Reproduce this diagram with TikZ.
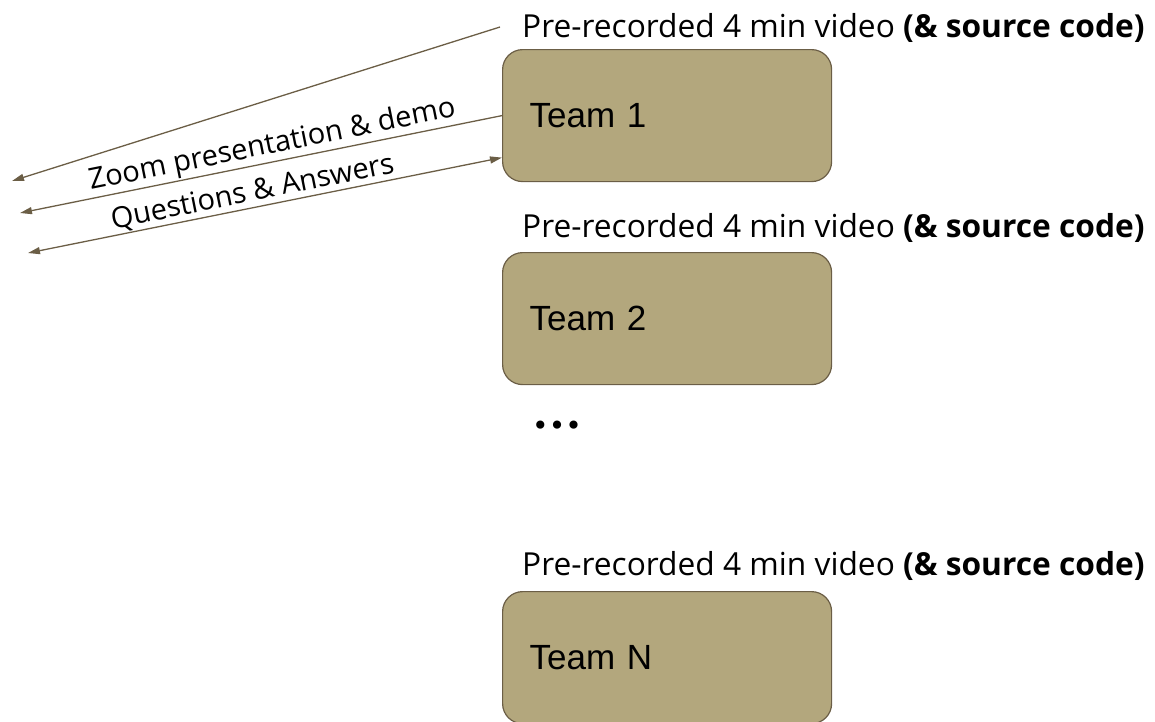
\documentclass[tikz,border=0pt]{standalone}
\usepackage{fontspec}
\setmainfont{Open Sans}
\newfontfamily\teamfont{Liberation Sans}
\newfontfamily\dotfont{DejaVu Sans}
\usetikzlibrary{arrows.meta}
\definecolor{teamfill}{RGB}{179,167,125}
\definecolor{teamline}{RGB}{107,94,70}
\tikzset{
  teambox/.style={draw=teamline, fill=teamfill, line width=1.2pt, rounded corners=20pt,
    anchor=north west, minimum height=132pt, text width=275pt, inner xsep=27pt,
    align=left, font=\teamfont\fontsize{35}{40}\selectfont},
  pretext/.style={anchor=base west, inner sep=0pt, font=\fontsize{31.7}{36}\selectfont},
  flow/.style={draw=teamline, line width=1.3pt},
  tip/.tip={Triangle[length=12pt, width=7pt]},
  flowlabel/.style={sloped, above, inner sep=1pt, font=\fontsize{29}{34}\selectfont}
}
\begin{document}
\begin{tikzpicture}[x=1pt, y=-1pt]
  \useasboundingbox (0,0) rectangle (1155,721);
  % teams
  \node[pretext] (pre1) at (522,37) {Pre-recorded 4 min video \textbf{(\& source code)}};
  \node[teambox] (team1) at (502,49) {Team 1};
  \node[pretext] (pre2) at (522,237) {Pre-recorded 4 min video \textbf{(\& source code)}};
  \node[teambox] (team2) at (502,252) {Team 2};
  \node[font=\dotfont\fontsize{28}{32}\selectfont] (dots) at (557,428) {•••};
  \node[pretext] (pre3) at (522,575) {Pre-recorded 4 min video \textbf{(\& source code)}};
  \node[teambox] (teamN) at (502,591) {Team N};
  % arrows
  \coordinate (out1) at (12,181);
  \coordinate (out2) at (20,213);
  \coordinate (out3) at (28,253);
  \draw[flow, -tip] ([xshift=-22pt, yshift=10pt]pre1.base west) -- (out1);
  \draw[flow, -tip] (team1.west) -- node[flowlabel, pos=0.47] {Zoom presentation \& demo} (out2);
  \draw[flow, tip-tip] (out3) -- node[flowlabel, pos=0.48] {Questions \& Answers} ([yshift=-42pt]team1.west);
\end{tikzpicture}
\end{document}
